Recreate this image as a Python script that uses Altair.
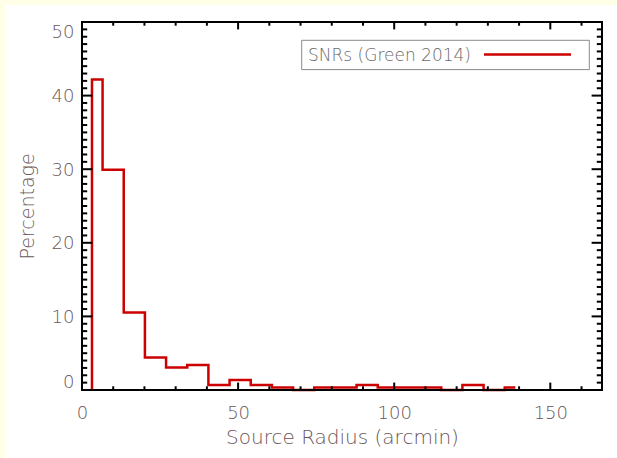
import altair as alt
import pandas as pd

# Green (2014) SNR catalogue: bin centres (arcmin) and share of remnants per bin (%)
radius = [3.20, 9.98, 16.76, 23.54, 30.32, 37.10, 43.88, 50.66, 57.44, 64.22,
          71.00, 77.78, 84.56, 91.34, 98.12, 104.90, 111.68, 118.46, 125.24,
          132.02, 138.80]
percent = [42.18, 29.93, 10.54, 4.42, 3.06, 3.40, 0.68, 1.36, 0.68, 0.34,
           0.00, 0.34, 0.34, 0.68, 0.34, 0.34, 0.34, 0.00, 0.68, 0.00, 0.34]

series_label = "SNRs (Green 2014)"

# axis ticks (labelled majors, unlabelled minors)
x_major = [0, 50, 100, 150]
x_minor = [10, 20, 30, 40, 60, 70, 80, 90, 110, 120, 130, 140, 160]
y_major = [0, 10, 20, 30, 40, 50]
y_minor = [v for v in range(1, 50) if v % 10]

X_MAX = 166.56
Y_MAX = 50
W, H = 520, 368

FONT = "DejaVu Sans"
WEIGHT = 200
LABEL_COLOR = "#6a5656"
LINE_RED = "#cc0000"
PAGE_YELLOW = "#ffffe8"

x_scale = alt.Scale(domain=[0, X_MAX], nice=False, zero=False)
y_scale = alt.Scale(domain=[0, Y_MAX], nice=False)

one_row = alt.Data(values=[{}])

# step outline, closed down to zero on the left edge
hist = pd.DataFrame({
    "r": [radius[0]] + radius,
    "p": [0.0] + percent,
    "k": list(range(len(radius) + 1)),
})

# thin tinted margin along the top and left edges of the page
strip_left = alt.Chart(one_row).mark_rect(color=PAGE_YELLOW).encode(
    x=alt.value(-82), x2=alt.value(-77), y=alt.value(-22), y2=alt.value(436)
)
strip_top = alt.Chart(one_row).mark_rect(color=PAGE_YELLOW).encode(
    x=alt.value(-82), x2=alt.value(535), y=alt.value(-22), y2=alt.value(-17)
)

line = alt.Chart(hist).mark_line(
    color=LINE_RED, strokeWidth=2.5, interpolate="step"
).encode(
    x=alt.X("r:Q", scale=x_scale, axis=alt.Axis(
        values=x_major, title="Source Radius (arcmin)", domain=False,
        ticks=False, tickSize=0, grid=False, labelFlush=False,
        labelFont=FONT, labelFontWeight=WEIGHT, labelFontSize=18,
        labelColor=LABEL_COLOR, labelPadding=28.5, labelBaseline="alphabetic",
        titleFont=FONT, titleFontWeight=WEIGHT, titleFontSize=20,
        titleColor=LABEL_COLOR, titleBaseline="alphabetic", titleY=53.5,
        zindex=1,
    )),
    y=alt.Y("p:Q", scale=y_scale, axis=alt.Axis(
        values=y_major, title="Percentage", domain=False,
        ticks=False, tickSize=0, grid=False, labelFlush=True,
        labelFont=FONT, labelFontWeight=WEIGHT, labelFontSize=18,
        labelColor=LABEL_COLOR, labelPadding=8, labelOffset=1,
        titleFont=FONT, titleFontWeight=WEIGHT, titleFontSize=19,
        titleColor=LABEL_COLOR, titleBaseline="alphabetic", titleAngle=270,
        titleX=-49, titleY=H / 2, titleAlign="center",
        zindex=1,
    )),
    order="k:Q",
)


def x_ticks(vals, length, top):
    y0, y1 = (0, length) if top else (H, H - length)
    return alt.Chart(pd.DataFrame({"v": vals})).mark_rule(
        color="black", strokeWidth=2
    ).encode(
        x=alt.X("v:Q", scale=x_scale), y=alt.value(y0), y2=alt.value(y1)
    )


def y_ticks(vals, length, right):
    x0, x1 = (W, W - length) if right else (0, length)
    return alt.Chart(pd.DataFrame({"v": vals})).mark_rule(
        color="black", strokeWidth=2
    ).encode(
        y=alt.Y("v:Q", scale=y_scale), x=alt.value(x0), x2=alt.value(x1)
    )


def frame_edge(**enc):
    return alt.Chart(one_row).mark_rule(
        color="black", strokeWidth=2, strokeCap="square"
    ).encode(**enc)


frame = [
    frame_edge(x=alt.value(0), x2=alt.value(W), y=alt.value(H)),
    frame_edge(x=alt.value(0), x2=alt.value(W), y=alt.value(0)),
    frame_edge(y=alt.value(0), y2=alt.value(H), x=alt.value(0)),
    frame_edge(y=alt.value(0), y2=alt.value(H), x=alt.value(W)),
]

ticks = [
    x_ticks(x_major, 7.4, False), x_ticks(x_minor, 3.7, False),
    x_ticks(x_major, 7.4, True), x_ticks(x_minor, 3.7, True),
    y_ticks(y_major, 10.4, False), y_ticks(y_minor, 5.2, False),
    y_ticks(y_major, 10.4, True), y_ticks(y_minor, 5.2, True),
]

# legend box in the upper right
legend_data = alt.Data(values=[{"label": series_label}])
legend_box = alt.Chart(legend_data).mark_rect(
    fill="white", stroke="#8a8a8a", strokeWidth=1
).encode(x=alt.value(219.7), x2=alt.value(507.3), y=alt.value(18.3), y2=alt.value(47.6))
legend_line = alt.Chart(legend_data).mark_rule(
    color=LINE_RED, strokeWidth=2.5
).encode(x=alt.value(402), x2=alt.value(489), y=alt.value(32.6))
legend_text = alt.Chart(legend_data).mark_text(
    align="left", baseline="alphabetic", font=FONT, fontWeight=WEIGHT,
    fontSize=17, color="#6a6a6a"
).encode(x=alt.value(226), y=alt.value(39), text="label:N")

chart = alt.layer(
    line, strip_left, strip_top, *frame, *ticks, legend_box, legend_line, legend_text
).properties(
    width=W, height=H,
    autosize=alt.AutoSizeParams(type="none"),
    padding={"left": 82, "top": 22, "right": 15, "bottom": 68},
    background="white",
).configure_view(stroke=None)

chart.save("out.html", embed_options={"renderer": "svg", "actions": False})
